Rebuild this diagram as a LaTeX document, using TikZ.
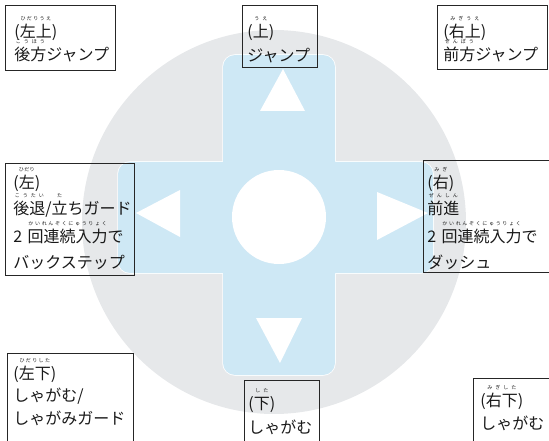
\documentclass[tikz,border=0pt]{standalone}
\usepackage{fontspec}
\setmainfont{Noto Sans CJK JP}
\newfontfamily\rubyfamily{Noto Sans CJK JP}
\usepackage{tikz}
\usetikzlibrary{backgrounds}
\usetikzlibrary{shapes}

\definecolor{padgray}{RGB}{230,232,234}
\definecolor{padblue}{RGB}{206,232,245}

\newsavebox{\furibox}
\newcommand{\rubyfont}{\rubyfamily\fontsize{5}{5}\selectfont}
\newcommand{\furi}[2]{\leavevmode\sbox\furibox{#1}%
  \rlap{\smash{\raisebox{16.5pt}{\hbox to \wd\furibox{\rubyfont\spaceskip=0pt plus 1fil\relax
    \hskip 0pt plus 0.5fil #2\hskip 0pt plus 0.5fil}}}}%
  \usebox\furibox}

\begin{document}
\begin{tikzpicture}[x=1pt, y=-1pt,
  lbl/.style={draw=black!85, line width=0.8pt, anchor=north west, align=left,
    inner ysep=0pt, text=black!90, font=\fontsize{16}{#1}\selectfont}]
  \path[use as bounding box, clip] (0,0) rectangle (549,441);

  % pad
  \fill[padgray] (274,222) circle (192);
  \draw[white, line width=1.5pt, rounded corners=12pt] (223,55) rectangle (335,375);
  \draw[white, line width=1.5pt, rounded corners=12pt] (118,162) rectangle (433,273);
  \fill[padblue, rounded corners=12pt] (223,55) rectangle (335,375);
  \fill[padblue, rounded corners=12pt] (118,162) rectangle (433,273);
  \fill[white] (279,217) circle (47);

  \fill[white] (283,69) -- (260,111) -- (305,111) -- cycle;
  \fill[white] (256,318) -- (302,318) -- (280,363) -- cycle;
  \fill[white] (136,213) -- (180,190) -- (180,237) -- cycle;
  \fill[white] (377,192) -- (377,240) -- (428,213) -- cycle;

  % labels
  \node[lbl=23, inner xsep=9pt, text width=92pt, text height=32pt, text depth=33pt]
    (upleft) at (5,5) {(\furi{左上}{ひ だ り う え})\\\furi{後方}{こ う ほ う}ジャンプ};
  \node[lbl=24, inner xsep=5pt, text width=65pt, text height=32pt, text depth=30pt]
    (up) at (242,5) {(\furi{上}{う え})\\ジャンプ};
  \node[lbl=23, inner xsep=6pt, text width=98pt, text height=32pt, text depth=32pt]
    (upright) at (437,5) {(\furi{右上}{み ぎ う え})\\\furi{前方}{ぜ ん ぽ う}ジャンプ};

  \node[lbl=26, inner xsep=8pt, text width=113pt, text height=25pt, text depth=87pt]
    (left) at (5,163) {(\furi{左}{ひ だ り})\\\furi{後退}{こ う た い}/\furi{立}{た}ちガード\\[2pt]
      2 \furi{回連続入力}{か い れ ん ぞ く に ゅ う り ょ く}で\\バックステップ};
  \node[lbl=26, inner xsep=4pt, text width=169pt, text height=28pt, text depth=84pt]
    (right) at (423,160) {(\furi{右}{み ぎ})\\\furi{前進}{ぜ ん し ん}\\[2pt]
      2 \furi{回連続入力}{か い れ ん ぞ く に ゅ う り ょ く}で\\ダッシュ};

  \node[lbl=22.5, inner xsep=6pt, text width=114pt, text height=26pt, text depth=91pt]
    (downleft) at (7,353) {(\furi{左下}{ひ だ り し た})\\しゃがむ/\\しゃがみガード};
  \node[lbl=24, inner xsep=4pt, text width=67pt, text height=29pt, text depth=61pt]
    (down) at (244,380) {(\furi{下}{し た})\\しゃがむ};
  \node[lbl=23, inner xsep=7pt, text width=113pt, text height=28pt, text depth=64pt]
    (downright) at (473,378) {(\furi{右下}{み ぎ し た})\\しゃがむ};
\end{tikzpicture}
\end{document}
